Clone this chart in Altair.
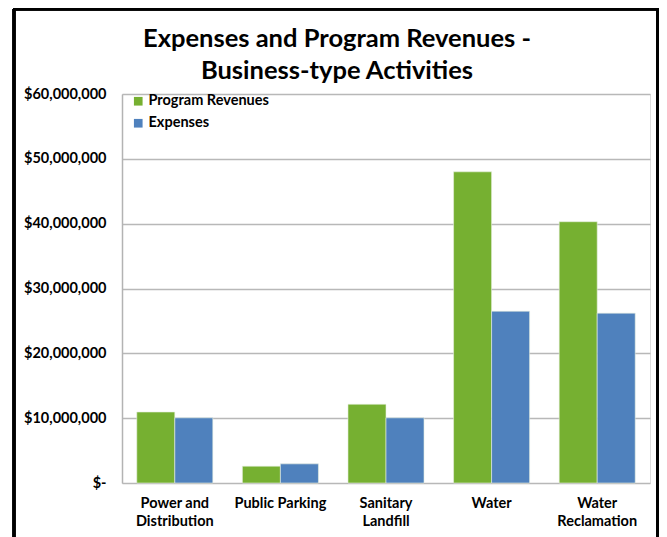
import altair as alt
import pandas as pd

categories = ["Power and Distribution", "Public Parking", "Sanitary Landfill", "Water", "Water Reclamation"]
program_revenues = [10950000, 2600000, 12150000, 48000000, 40300000]
expenses = [10050000, 2950000, 10050000, 26500000, 26200000]
series = ["Program Revenues", "Expenses"]
colors = ["#76b031", "#4f81bd"]

rows = []
for c, pr, ex in zip(categories, program_revenues, expenses):
    rows.append({"category": c, "series": series[0], "value": pr})
    rows.append({"category": c, "series": series[1], "value": ex})
df = pd.DataFrame(rows)

FONT = "Lato"

label_expr = (
    "datum.label == 'Power and Distribution' ? ['Power and', 'Distribution'] : "
    "datum.label == 'Sanitary Landfill' ? ['Sanitary', 'Landfill'] : "
    "datum.label == 'Water Reclamation' ? ['Water', 'Reclamation'] : datum.label"
)

bars = alt.Chart(df).mark_bar(stroke="#e8f0e0", strokeWidth=0.6).encode(
    x=alt.X("category:N", sort=categories,
            scale=alt.Scale(paddingInner=0.28, paddingOuter=0.14),
            axis=alt.Axis(title=None, labelAngle=0, labelExpr=label_expr,
                          labelFont=FONT, labelFontWeight="bold", labelFontSize=14.5,
                          labelColor="#000000", labelPadding=13, labelLineHeight=18,
                          ticks=False, domain=False)),
    xOffset=alt.XOffset("series:N", sort=series),
    y=alt.Y("value:Q",
            scale=alt.Scale(domain=[0, 60000000]),
            axis=alt.Axis(title=None, values=[0, 10000000, 20000000, 30000000, 40000000, 50000000, 60000000],
                          labelExpr="datum.value == 0 ? '$-\u00a0\u00a0\u00a0' : format(datum.value, '$,.0f')",
                          labelFont=FONT, labelFontWeight="bold", labelFontSize=14.5,
                          labelColor="#000000", labelPadding=16, ticks=False,
                          domain=True, domainColor="#b3b3b3", domainWidth=1.5,
                          grid=True, gridColor="#b8b8b8", gridWidth=1.5)),
    color=alt.Color("series:N", sort=series,
                    scale=alt.Scale(domain=series, range=colors),
                    legend=alt.Legend(title=None, orient="none", legendX=9, legendY=0,
                                      symbolType="square", symbolSize=75,
                                      symbolStrokeWidth=0, labelFont=FONT,
                                      labelFontWeight="bold", labelFontSize=14.5,
                                      labelColor="#000000", rowPadding=7, labelOffset=3)),
)

frame_left = alt.Chart(df).mark_rule(color="#000000", strokeWidth=2.5).encode(
    x=alt.value(-108), y=alt.value(-85), y2=alt.value(460))
frame_right = alt.Chart(df).mark_rule(color="#000000", strokeWidth=2.5).encode(
    x=alt.value(535.5), y=alt.value(-85), y2=alt.value(460))
frame_top = alt.Chart(df).mark_rule(color="#000000", strokeWidth=2.5).encode(
    x=alt.value(-109), x2=alt.value(536.5), y=alt.value(-85))

chart = alt.layer(bars, frame_left, frame_right, frame_top).properties(
    width=528, height=389,
    title=alt.TitleParams(["Expenses and Program Revenues -", "Business-type Activities"],
                          font=FONT, fontSize=25.5, fontWeight="bold", color="#000000",
                          anchor="middle", dx=-49, offset=0, dy=77, lineHeight=32, frame="group"),
    autosize=alt.AutoSizeParams(type="none"),
    padding={"left": 114, "top": 86, "right": 9, "bottom": 56},
).configure_view(stroke=None).configure(background="#ffffff")

chart.save("out.html", embed_options={"renderer": "svg", "actions": False})
